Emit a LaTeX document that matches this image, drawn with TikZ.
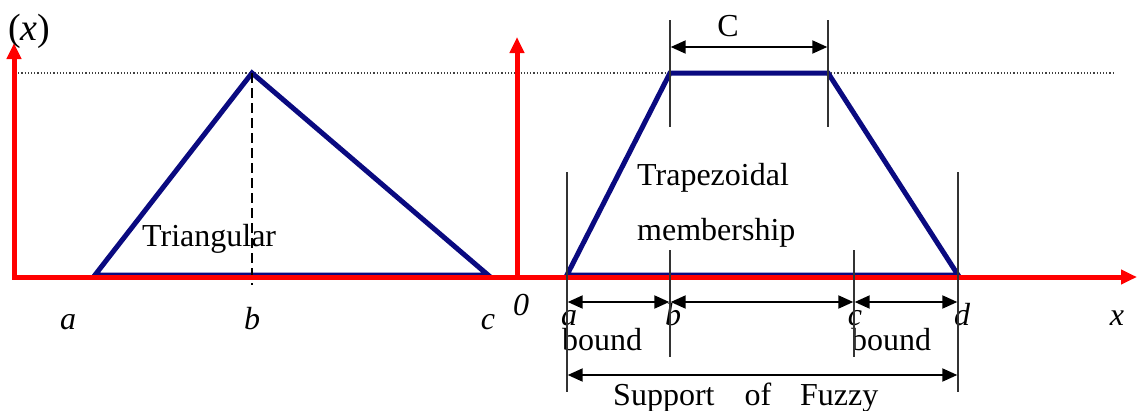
\documentclass[tikz,border=0pt]{standalone}
\usepackage{fontspec}
\setmainfont{Liberation Serif}
\usetikzlibrary{arrows.meta}
\definecolor{navy}{RGB}{10,10,128}
\begin{document}
\begin{tikzpicture}[x=1pt,y=-1pt,
  txt/.style={inner sep=0pt,font=\fontsize{32}{38}\selectfont},
  ilbl/.style={inner sep=0pt,font=\fontsize{32}{38}\selectfont\itshape,anchor=base},
  mf/.style={draw=navy,line width=5pt,line join=miter},
  redaxis/.style={draw=red,line width=5pt,line join=miter},
  redtip/.style={-{Triangle[length=16pt,width=14pt]}},
  guide/.style={draw=black!80,line width=1.4pt},
  dim/.style={draw=black,line width=2pt,{Triangle[length=15pt,width=13pt]}-{Triangle[length=15pt,width=13pt]}},
  dotline/.style={draw=black!75,line width=1.2pt,dash pattern=on 1.2pt off 2pt},
  dashline/.style={draw=black,line width=2.5pt,dash pattern=on 10pt off 5pt},
]
\useasboundingbox (0,0) rectangle (1137,410);

% key points
\coordinate (dl) at (15,73);
\coordinate (dr) at (1113,73);
\coordinate (ta) at (95,275);
\coordinate (tb) at (252,73);
\coordinate (tc) at (488,275);
\coordinate (tbb) at (252,285);
\coordinate (pa) at (567,275);
\coordinate (pb) at (670,73);
\coordinate (pc) at (828,73);
\coordinate (pd) at (958,275);
\coordinate (y1) at (14,43);
\coordinate (o1) at (14,277);
\coordinate (xe) at (1137,277);
\coordinate (o2) at (517,277);
\coordinate (y2) at (517,37);

% dotted level line
\draw[dotline] (dl) -- (dr);

% membership functions
\draw[mf] (ta) -- (tb) -- (tc) -- cycle;
\draw[mf] (pa) -- (pb) -- (pc) -- (pd) -- cycle;
\draw[dashline] (tb) -- (tbb);

% axes
\draw[redaxis,{Triangle[length=16pt,width=14pt]}-{Triangle[length=16pt,width=14pt]}] (y1) -- (o1) -- (xe);
\draw[redaxis,redtip] (o2) -- (y2);

% texts
\node[inner sep=0pt,font=\fontsize{38}{44}\selectfont,anchor=base west] (mu) at (8,40) {(\textit{x})};
\node[txt,anchor=base west] (tri) at (142,246) {Triangular};
\node[txt,anchor=base west] (trap1) at (637,185) {Trapezoidal};
\node[txt,anchor=base west] (trap2) at (637,240) {membership};
\node[txt,anchor=base] (cl) at (728,36) {C};
\node[ilbl] (la1) at (68,329) {a};
\node[ilbl] (lb1) at (252,329) {b};
\node[ilbl] (lc1) at (488,329) {c};
\node[ilbl] (l0) at (521,315) {0};
\node[ilbl] (la2) at (569,325) {a};
\node[ilbl] (lb2) at (673,325) {b};
\node[ilbl] (lc2) at (855,325) {c};
\node[ilbl] (ld2) at (962,325) {d};
\node[ilbl] (lx) at (1117,325) {x};
\node[txt,anchor=base] (bd1) at (602,350) {bound};
\node[txt,anchor=base] (bd2) at (891,350) {bound};
\node[txt,anchor=base west] (sup) at (613,405) {Support\hspace{30pt}of\hspace{29pt}Fuzzy};

% guide lines
\coordinate (g1t) at (567,172); \coordinate (g1b) at (567,392);
\coordinate (g2t) at (670,20);  \coordinate (g2m) at (670,127);
\coordinate (g2u) at (670,250); \coordinate (g2b) at (670,357);
\coordinate (g3t) at (828,20);  \coordinate (g3b) at (828,127);
\coordinate (g4t) at (854,250); \coordinate (g4b) at (854,357);
\coordinate (g5t) at (958,172); \coordinate (g5b) at (958,392);
\draw[guide] (g1t) -- (g1b);
\draw[guide] (g2t) -- (g2m);
\draw[guide] (g2u) -- (g2b);
\draw[guide] (g3t) -- (g3b);
\draw[guide] (g4t) -- (g4b);
\draw[guide] (g5t) -- (g5b);

% dimension arrows
\coordinate (d1) at (567.7,302); \coordinate (d2l) at (669.3,302);
\coordinate (d2r) at (670.7,302); \coordinate (d3l) at (853.3,302);
\coordinate (d3r) at (854.7,302); \coordinate (d4) at (957.3,302);
\draw[dim] (d1) -- (d2l);
\draw[dim] (d2r) -- (d3l);
\draw[dim] (d3r) -- (d4);
\coordinate (c1) at (670.7,47); \coordinate (c2) at (827.3,47);
\draw[dim] (c1) -- (c2);
\coordinate (s1) at (567.7,375); \coordinate (s2) at (957.3,375);
\draw[dim] (s1) -- (s2);
\end{tikzpicture}
\end{document}
